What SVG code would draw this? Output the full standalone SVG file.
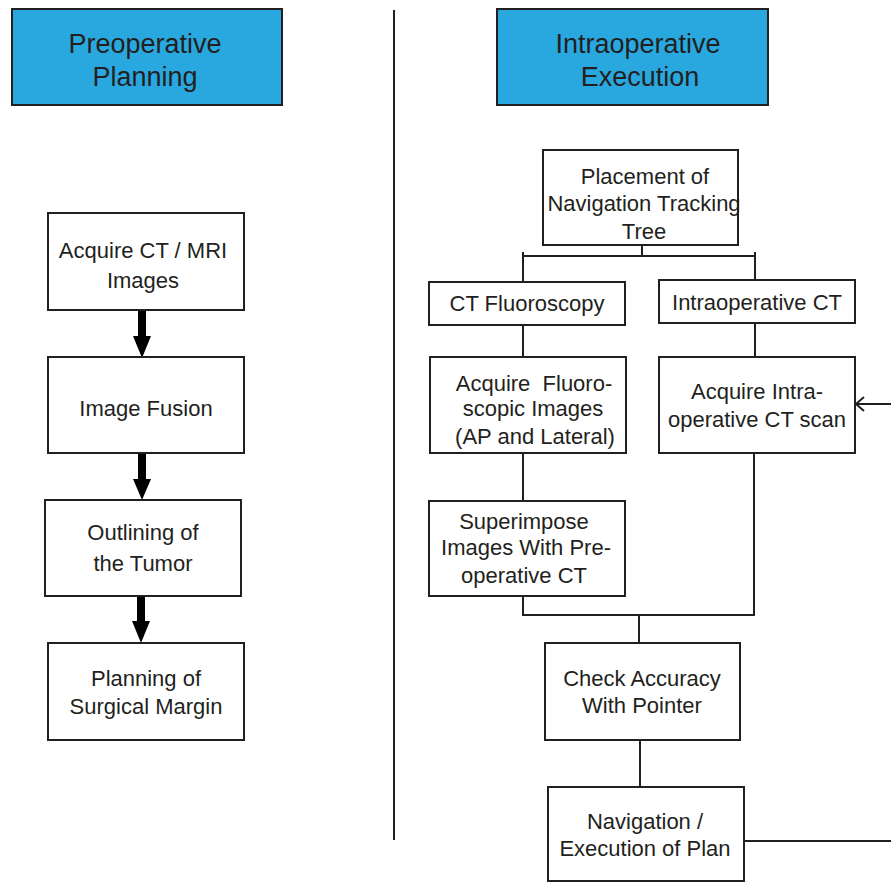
<svg xmlns="http://www.w3.org/2000/svg" width="891" height="883" viewBox="0 0 891 883">
<style>
.hdr{fill:#29a8e0;stroke:#231f20;stroke-width:2}
.box{fill:#fff;stroke:#231f20;stroke-width:2}
.t{font-family:"Liberation Sans",Arial,sans-serif;font-size:22px;fill:#231f20;text-anchor:middle}
.h{font-family:"Liberation Sans",Arial,sans-serif;font-size:27px;fill:#231f20;text-anchor:middle}
.c{fill:none;stroke:#231f20;stroke-width:2}
.ba{fill:#000;stroke:none}
</style>
<rect width="891" height="883" fill="#fff"/>
<g id="divider"><line class="c" x1="394" y1="10" x2="394" y2="840"/></g>
<g id="hdr-pre"><rect class="hdr" x="12" y="9" width="270" height="96"/><text class="h" x="145" y="53">Preoperative</text><text class="h" x="145" y="86">Planning</text></g>
<g id="hdr-intra"><rect class="hdr" x="497" y="9" width="271" height="96"/><text class="h" x="638" y="53">Intraoperative</text><text class="h" x="640" y="86">Execution</text></g>

<g id="connectors">
<path class="ba" d="M138 310 h8 v26 h5 l-9 22 l-9 -22 h5 z"/>
<path class="ba" d="M138 453 h8 v26 h5 l-9 21 l-9 -21 h5 z"/>
<path class="ba" d="M137 596 h8 v25 h5 l-9 22 l-9 -22 h5 z"/>
<path class="c" d="M642 245 V256 M523 260 V256 H755 V280 M523 256 V282"/>
<path class="c" d="M523 252 V260 M755 252 V260"/>
<path class="c" d="M523 325 V357 M755 323 V357 M523 453 V500"/>
<path class="c" d="M523 596 V615 H754 V453 M639 615 V643 M640 740 V787"/>
<path class="c" d="M744 841 H891"/>
<path class="c" d="M891 404 H856 M864 397 L856 404 L864 411"/>
</g>

<g id="n-acquire"><rect class="box" x="48" y="213" width="196" height="97"/><text class="t" x="143" y="258">Acquire CT / MRI</text><text class="t" x="143" y="288">Images</text></g>
<g id="n-fusion"><rect class="box" x="48" y="357" width="196" height="96"/><text class="t" x="146" y="416">Image Fusion</text></g>
<g id="n-outline"><rect class="box" x="45" y="500" width="196" height="96"/><text class="t" x="143" y="540">Outlining of</text><text class="t" x="143" y="571">the Tumor</text></g>
<g id="n-plan"><rect class="box" x="48" y="643" width="196" height="97"/><text class="t" x="146" y="686">Planning of</text><text class="t" x="146" y="714">Surgical Margin</text></g>

<g id="n-tree"><rect class="box" x="543" y="150" width="195" height="95"/><text class="t" x="645" y="184">Placement of</text><text class="t" x="644" y="211">Navigation Tracking</text><text class="t" x="644" y="239">Tree</text></g>
<g id="n-ctfluoro"><rect class="box" x="429" y="282" width="196" height="43"/><text class="t" x="527" y="311">CT Fluoroscopy</text></g>
<g id="n-intract"><rect class="box" x="659" y="280" width="196" height="43"/><text class="t" x="757" y="310">Intraoperative CT</text></g>
<g id="n-acqfluoro"><rect class="box" x="430" y="357" width="196" height="96"/><text class="t" x="534" y="391">Acquire&#160; Fluoro-</text><text class="t" x="533" y="416">scopic Images</text><text class="t" x="535" y="444">(AP and Lateral)</text></g>
<g id="n-acqintra"><rect class="box" x="659" y="357" width="196" height="96"/><text class="t" x="757" y="399">Acquire Intra-</text><text class="t" x="757" y="427">operative CT scan</text></g>
<g id="n-superimpose"><rect class="box" x="429" y="501" width="196" height="95"/><text class="t" x="524" y="529">Superimpose</text><text class="t" x="526" y="555">Images With Pre-</text><text class="t" x="524" y="583">operative CT</text></g>
<g id="n-check"><rect class="box" x="545" y="643" width="195" height="97"/><text class="t" x="642" y="686">Check Accuracy</text><text class="t" x="642" y="713">With Pointer</text></g>
<g id="n-nav"><rect class="box" x="548" y="787" width="196" height="94"/><text class="t" x="645" y="829">Navigation /</text><text class="t" x="645" y="856">Execution of Plan</text></g>
</svg>
